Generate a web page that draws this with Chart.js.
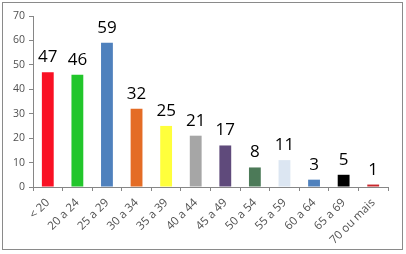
<!DOCTYPE html>
<html lang="pt">
<head>
    <meta charset="UTF-8">
    <title>Faixa etária</title>
    <script src="https://cdn.jsdelivr.net/npm/chart.js@4.4.1/dist/chart.umd.min.js"></script>
    <style>
        html, body {margin: 0;padding: 0;width: 406px;height: 254px;overflow: hidden;background: #fff;}
        #box {position: absolute;left: 0;top: 0;width: 406px;height: 254px;}
        #frame {position: absolute;left: 2px;top: 2px;width: 399px;height: 246px;border: 1px solid #8a8a8a;pointer-events: none;}
    </style>
</head>
<body>
<div id="box"><canvas id="chart" width="406" height="254"></canvas></div>
<div id="frame"></div>
<script>
    const categories = ['< 20', '20 a 24', '25 a 29', '30 a 34', '35 a 39', '40 a 44', '45 a 49', '50 a 54', '55 a 59', '60 a 64', '65 a 69', '70 ou mais'];
    const values = [47, 46, 59, 32, 25, 21, 17, 8, 11, 3, 5, 1];
    const barColors = ['#F91124', '#22C62B', '#4F81BD', '#E46C25', '#FFFF3C', '#A6A6A6', '#5F4A7B', '#4C7A58', '#DCE6F2', '#4F81BD', '#000000', '#C8282D'];
    const yTicks = [0, 10, 20, 30, 40, 50, 60, 70];

    const fontName = '"Open Sans", Lato, sans-serif';

    // valores em cima das barras
    const valueLabels = {
        id: 'valueLabels',
        afterDatasetsDraw(chart) {
            const ctx = chart.ctx;
            const meta = chart.getDatasetMeta(0);
            ctx.save();
            ctx.font = '17px ' + fontName;
            ctx.fillStyle = '#000';
            ctx.textAlign = 'center';
            ctx.textBaseline = 'alphabetic';
            meta.data.forEach((bar, i) => {
                ctx.fillText(String(values[i]), bar.x, bar.y - 10);
            });
            ctx.restore();
        }
    };

    new Chart(document.getElementById('chart'), {
        type: 'bar',
        data: {
            labels: categories,
            datasets: [{
                data: values,
                backgroundColor: barColors,
                borderWidth: 0,
                barPercentage: 0.4,
                categoryPercentage: 1
            }]
        },
        options: {
            responsive: false,
            animation: false,
            devicePixelRatio: 1,
            layout: {padding: {top: 16, right: 18, left: 0, bottom: 0}},
            plugins: {legend: {display: false}, tooltip: {enabled: false}},
            scales: {
                x: {
                    afterFit: (s) => { s.height = 67; },
                    border: {display: true, color: '#868686', width: 1},
                    grid: {drawOnChartArea: false, drawTicks: true, tickLength: 4, color: '#868686', offset: true},
                    ticks: {color: '#505050', font: {family: fontName, size: 11.5}, minRotation: 45, maxRotation: 45, padding: 5}
                },
                y: {
                    min: yTicks[0],
                    max: yTicks[yTicks.length - 1],
                    afterFit: (s) => { s.width = 33; },
                    afterBuildTicks: (s) => { s.ticks = yTicks.map(v => ({value: v})); },
                    border: {display: true, color: '#868686', width: 1},
                    grid: {drawOnChartArea: false, drawTicks: true, tickLength: 4, color: '#868686'},
                    ticks: {color: '#505050', font: {family: fontName, size: 10.5}, padding: 4}
                }
            }
        },
        plugins: [valueLabels]
    });
</script>
</body>
</html>
